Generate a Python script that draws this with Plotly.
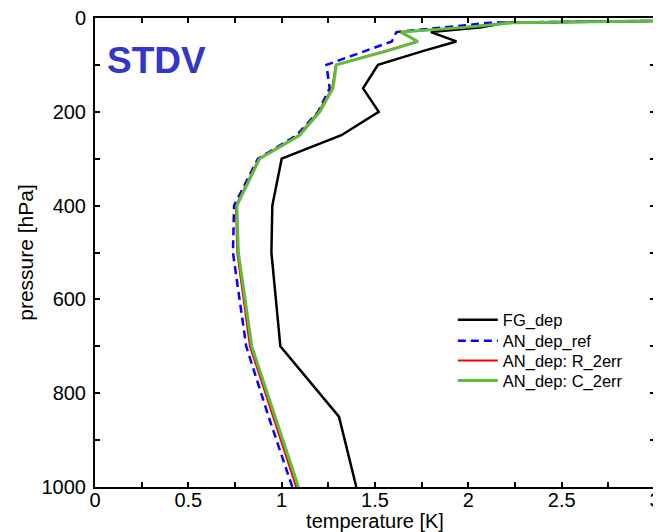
import plotly.graph_objects as go

pressure = [1000, 850, 700, 500, 400, 300, 250, 200, 150, 100, 70, 50, 30, 20, 10, 5]
fg_dep = [1.40, 1.307, 0.993, 0.945, 0.95, 1.00, 1.32, 1.52, 1.436, 1.516, 1.76, 1.936, 1.80, 2.07, 2.20, 3.30]
an_dep_ref = [1.057, 0.93, 0.81, 0.739, 0.745, 0.873, 1.08, 1.195, 1.257, 1.24, 1.45, 1.59, 1.615, 1.88, 2.12, 3.25]
an_dep_r2 = [1.078, 0.955, 0.83, 0.762, 0.755, 0.878, 1.09, 1.198, 1.27, 1.29, 1.56, 1.725, 1.635, 1.97, 2.23, 3.30]
an_dep_c2 = [1.09, 0.965, 0.840, 0.768, 0.760, 0.882, 1.096, 1.204, 1.275, 1.293, 1.567, 1.73, 1.64, 1.98, 2.24, 3.30]

series_names = ["FG_dep", "AN_dep_ref", "AN_dep: R_2err", "AN_dep: C_2err"]
font_family = "Liberation Sans, Arial, Helvetica, sans-serif"

fig = go.Figure()
fig.add_trace(go.Scatter(x=fg_dep, y=pressure, mode="lines", name=series_names[0], legend="legend",
                         line=dict(color="black", width=2.5)))
fig.add_trace(go.Scatter(x=an_dep_ref, y=pressure, mode="lines", name=series_names[1], legend="legend2",
                         line=dict(color="#0000ff", width=2.5, dash="8px,5px")))
fig.add_trace(go.Scatter(x=an_dep_r2, y=pressure, mode="lines", name=series_names[2], legend="legend3",
                         line=dict(color="#ff0000", width=2)))
fig.add_trace(go.Scatter(x=an_dep_c2, y=pressure, mode="lines", name=series_names[3], legend="legend4",
                         line=dict(color="#5cbf3c", width=3)))

axis_common = dict(
    showgrid=False, zeroline=False, showline=True, linecolor="black", linewidth=2,
    mirror="allticks", ticks="inside", ticklen=5, tickwidth=1.5, tickcolor="black",
    tickfont=dict(family=font_family, size=20, color="black"),
    automargin=False, ticklabeloverflow="allow",
)

def leg(yv):
    return dict(x=0.639, y=yv, xanchor="left", yanchor="middle",
                bgcolor="rgba(0,0,0,0)", borderwidth=0,
                font=dict(family=font_family, size=16.5, color="black"),
                itemwidth=40)

fig.update_layout(
    width=653, height=524,
    margin=dict(l=87, r=6, t=10, b=45),
    paper_bgcolor="white", plot_bgcolor="white",
    font=dict(family=font_family, color="black"),
    showlegend=True,
    legend=leg(0.356), legend2=leg(0.311), legend3=leg(0.269), legend4=leg(0.2266),
    xaxis=dict(range=[0, 3], tickvals=[0, 0.5, 1, 1.5, 2, 2.5, 3],
               ticktext=["0", "0.5", "1", "1.5", "2", "2.5", "3"],
               ticklabelstandoff=-6,
               minor=dict(dtick=0.25, ticks="inside", ticklen=5, tickcolor="black", tickwidth=1.5),
               title=dict(text="temperature [K]", font=dict(family=font_family, size=20), standoff=0),
               **axis_common),
    yaxis=dict(range=[1000, 0], tickvals=[0, 200, 400, 600, 800, 1000],
               ticklabelstandoff=3,
               minor=dict(dtick=100, ticks="inside", ticklen=5, tickcolor="black", tickwidth=1.5),
               title=dict(text="pressure [hPa]", font=dict(family=font_family, size=21), standoff=2),
               **axis_common),
    annotations=[dict(text="<b>STDV</b>", x=0.0175, y=0.958, xref="paper", yref="paper",
                      xanchor="left", yanchor="top", showarrow=False,
                      font=dict(family=font_family, size=37, color="#3535c8"))],
)

fig.write_html("out.html")
